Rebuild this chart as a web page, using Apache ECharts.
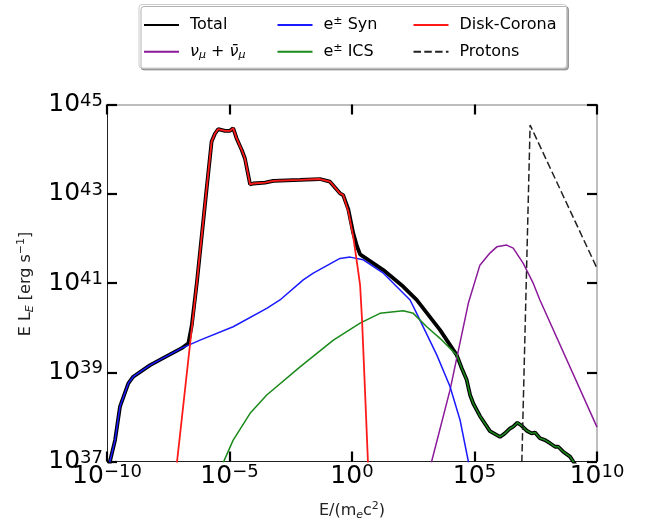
<!DOCTYPE html>
<html>
<head>
<meta charset="utf-8">
<script src="https://cdn.jsdelivr.net/npm/echarts@6/dist/echarts.min.js"></script>
<style>
  html, body { margin: 0; padding: 0; background: #fff; }
  #chart { width: 646px; height: 526px; }
</style>
</head>
<body>
<div id="chart"></div>
<script>
// Spectral energy distribution, both axes in decades: [log10 E/(me c^2), log10 E L_E]
const xTickExps = [-10, -5, 0, 5, 10];
const yTickExps = [37, 39, 41, 43, 45];

const totalCurve = [
  [-9.95, 36.5], [-9.88, 37.0], [-9.67, 37.48], [-9.47, 38.23], [-9.13, 38.75], [-8.93, 38.90],
  [-8.24, 39.16], [-7.56, 39.36], [-6.95, 39.54], [-6.68, 39.65], [-6.54, 40.05], [-6.33, 41.02],
  [-5.94, 43.08], [-5.73, 44.17], [-5.59, 44.35], [-5.46, 44.45], [-5.18, 44.41], [-4.98, 44.41],
  [-4.85, 44.47], [-4.71, 44.24], [-4.50, 43.98], [-4.37, 43.79], [-4.16, 43.21], [-4.03, 43.23],
  [-3.55, 43.25], [-3.21, 43.29], [-2.12, 43.31], [-1.31, 43.33], [-0.90, 43.27], [-0.49, 43.01],
  [-0.36, 42.97], [-0.15, 42.65], [0.05, 42.12], [0.20, 41.83], [0.33, 41.64], [1.28, 41.29],
  [2.09, 40.92], [2.64, 40.62], [3.59, 39.95], [4.27, 39.39], [4.48, 39.09], [4.68, 38.83],
  [4.82, 38.49], [4.95, 38.30], [5.22, 38.02], [5.63, 37.68], [6.04, 37.55], [6.24, 37.63],
  [6.45, 37.74], [6.58, 37.78], [6.75, 37.87], [6.93, 37.80], [7.13, 37.69], [7.33, 37.63],
  [7.47, 37.65], [7.67, 37.52], [7.88, 37.48], [8.08, 37.41], [8.29, 37.33], [8.42, 37.33],
  [8.62, 37.22], [8.90, 37.11], [9.03, 37.0], [9.27, 36.8]
];

const neutrinoCurve = [
  [3.02, 36.5], [3.25, 37.0], [4.00, 38.60], [4.75, 40.55], [5.22, 41.40], [5.63, 41.67],
  [5.91, 41.81], [6.31, 41.85], [6.58, 41.78], [6.99, 41.44], [7.40, 40.99], [7.67, 40.62],
  [10.0, 37.77]
];

const synCurve = [
  [-9.95, 36.5], [-9.88, 37.0], [-9.67, 37.48], [-9.47, 38.23], [-9.13, 38.75], [-8.93, 38.90],
  [-8.24, 39.16], [-7.56, 39.36], [-6.95, 39.54], [-6.20, 39.72], [-4.85, 40.02], [-3.48, 40.43],
  [-2.94, 40.62], [-1.99, 41.07], [-1.58, 41.22], [-0.49, 41.55], [-0.08, 41.58], [0.46, 41.52],
  [1.28, 41.22], [2.37, 40.62], [2.64, 40.32], [3.46, 39.39], [4.00, 38.68], [4.41, 37.93],
  [4.75, 37.0], [4.93, 36.5]
];

const icsCurve = [
  [-5.60, 36.55], [-4.85, 37.48], [-4.16, 38.08], [-3.48, 38.49], [-2.12, 39.12], [-0.76, 39.72],
  [0.33, 40.10], [1.14, 40.32], [2.09, 40.38], [2.50, 40.32], [3.05, 40.02], [3.59, 39.76],
  [4.27, 39.39], [4.48, 39.09], [4.68, 38.83], [4.82, 38.49], [4.95, 38.30], [5.22, 38.02],
  [5.63, 37.68], [6.04, 37.55], [6.24, 37.63], [6.45, 37.74], [6.58, 37.78], [6.75, 37.87],
  [6.93, 37.80], [7.13, 37.69], [7.33, 37.63], [7.47, 37.65], [7.67, 37.52], [7.88, 37.48],
  [8.08, 37.41], [8.29, 37.33], [8.42, 37.33], [8.62, 37.22], [8.90, 37.11], [9.03, 37.0],
  [9.27, 36.8]
];

const diskCoronaCurve = [
  [-7.24, 36.5], [-7.14, 37.0], [-6.33, 41.02], [-5.94, 43.08], [-5.73, 44.17], [-5.59, 44.35],
  [-5.46, 44.45], [-5.18, 44.41], [-4.98, 44.41], [-4.85, 44.47], [-4.71, 44.24], [-4.50, 43.98],
  [-4.37, 43.79], [-4.16, 43.21], [-4.03, 43.23], [-3.55, 43.25], [-3.21, 43.29], [-2.12, 43.31],
  [-1.31, 43.33], [-0.90, 43.27], [-0.49, 43.01], [-0.36, 42.97], [-0.15, 42.61], [0.05, 42.04],
  [0.20, 41.47], [0.33, 40.96], [0.41, 40.17], [0.53, 38.60], [0.65, 37.0], [0.69, 36.5]
];

const protonCurve = [
  [6.91, 36.5], [7.27, 44.54], [10.0, 41.33]
];

const FONT = 'DejaVu Sans';
const MINUS = '\u2212';

function expText(n) {
  return (n < 0 ? MINUS + Math.abs(n) : String(n));
}

const tickRich = {
  b: { fontFamily: FONT, fontSize: 25, lineHeight: 25, verticalAlign: 'bottom', color: '#000', padding: [3, 0, 0, 0] },
  s: { fontFamily: FONT, fontSize: 18, lineHeight: 10, verticalAlign: 'top', color: '#000' }
};

function tickLabel(v) {
  return '{b|10}{s|' + expText(Math.round(v)) + '}';
}

const legendRich = {
  t: { fontFamily: FONT, fontSize: 16, color: '#000', lineHeight: 18 },
  it: { fontFamily: FONT, fontSize: 16, fontStyle: 'italic', color: '#000', lineHeight: 18 },
  sp: { fontFamily: FONT, fontSize: 11, color: '#000', lineHeight: 12, verticalAlign: 'top' },
  sb: { fontFamily: FONT, fontSize: 11, fontStyle: 'italic', color: '#000', lineHeight: 12, verticalAlign: 'bottom' }
};

const legendText = {
  'Total': '{t|Total}',
  'numu': '{it|ν}{sb|μ}{t| + }{it|ν̄}{sb|μ}',
  'e± Syn': '{t|e}{sp|±}{t| Syn}',
  'e± ICS': '{t|e}{sp|±}{t| ICS}',
  'Disk-Corona': '{t|Disk-Corona}',
  'Protons': '{t|Protons}'
};

function makeLegend(left, names) {
  return {
    orient: 'vertical',
    left: left,
    top: 16,
    padding: 0,
    itemWidth: 35,
    itemHeight: 16,
    itemGap: 8.7,
    selectedMode: false,
    data: names,
    itemStyle: { opacity: 0 },
    formatter: name => legendText[name],
    textStyle: { fontFamily: FONT, fontSize: 16, color: '#000', lineHeight: 18, padding: [0, 0, 0, 6], rich: legendRich }
  };
}

function lineSeries(name, data, color, width, extra) {
  return Object.assign({
    name: name,
    type: 'line',
    data: data,
    symbol: 'none',
    showSymbol: false,
    clip: true,
    silent: true,
    lineStyle: { color: color, width: width },
    itemStyle: { color: color }
  }, extra || {});
}

const axisCommonX = {
  type: 'value',
  min: xTickExps[0],
  max: xTickExps[xTickExps.length - 1],
  interval: xTickExps[1] - xTickExps[0],
  splitLine: { show: false }
};
const axisCommonY = {
  type: 'value',
  min: yTickExps[0],
  max: yTickExps[yTickExps.length - 1],
  interval: yTickExps[1] - yTickExps[0],
  splitLine: { show: false }
};

function tickStyle() {
  return { show: true, inside: true, length: 10, lineStyle: { color: '#000', width: 2.2 } };
}

const chart = echarts.init(document.getElementById('chart'), null, { renderer: 'canvas' });

chart.setOption({
  animation: false,
  backgroundColor: '#fff',
  grid: { left: 107, right: 49, top: 104.5, bottom: 64.5 },
  xAxis: [
    Object.assign({}, axisCommonX, {
      position: 'bottom',
      axisLine: { show: true, onZero: false, lineStyle: { color: '#222', width: 1 } },
      axisTick: tickStyle(),
      axisLabel: { show: true, margin: 2, formatter: tickLabel, rich: tickRich, showMinLabel: true, showMaxLabel: true }
    }),
    Object.assign({}, axisCommonX, {
      position: 'top',
      axisLine: { show: true, onZero: false, lineStyle: { color: '#a8a8a8', width: 1.5 } },
      axisTick: tickStyle(),
      axisLabel: { show: false }
    })
  ],
  yAxis: [
    Object.assign({}, axisCommonY, {
      position: 'left',
      axisLine: { show: true, onZero: false, lineStyle: { color: '#222', width: 1 } },
      axisTick: tickStyle(),
      axisLabel: { show: true, margin: 4, formatter: tickLabel, rich: tickRich, showMinLabel: true, showMaxLabel: true }
    }),
    Object.assign({}, axisCommonY, {
      position: 'right',
      axisLine: { show: true, onZero: false, lineStyle: { color: '#a8a8a8', width: 1.5 } },
      axisTick: tickStyle(),
      axisLabel: { show: false }
    })
  ],
  legend: [
    makeLegend(143, ['Total', 'numu']),
    makeLegend(276.5, ['e± Syn', 'e± ICS']),
    makeLegend(412.5, ['Disk-Corona', 'Protons'])
  ],
  graphic: [
    {
      type: 'rect', z: 1,
      shape: { x: 139, y: 4.5, width: 427.5, height: 63.5, r: 3 },
      style: { fill: '#fff', stroke: '#cccccc', lineWidth: 1, shadowColor: 'rgba(0,0,0,0.3)', shadowOffsetX: 2, shadowOffsetY: 2, shadowBlur: 0 }
    },
    {
      type: 'text', x: 352, y: 511, z: 10,
      style: {
        text: '{t|E/(m}{sb|e}{t|c}{sp|2}{t|)}',
        align: 'center', verticalAlign: 'middle',
        rich: {
          t: { fontFamily: FONT, fontSize: 16, fill: '#222', lineHeight: 20 },
          sb: { fontFamily: FONT, fontSize: 11, fontStyle: 'italic', fill: '#222', lineHeight: 13, verticalAlign: 'bottom' },
          sp: { fontFamily: FONT, fontSize: 11, fill: '#222', lineHeight: 13, verticalAlign: 'top' }
        }
      }
    },
    {
      type: 'text', x: 26, y: 284, z: 10, rotation: Math.PI / 2,
      style: {
        text: '{t|E L}{sb|E}{t| [erg s}{sp|' + MINUS + '1}{t|]}',
        align: 'center', verticalAlign: 'middle',
        rich: {
          t: { fontFamily: FONT, fontSize: 16, fill: '#222', lineHeight: 20 },
          sb: { fontFamily: FONT, fontSize: 11, fontStyle: 'italic', fill: '#222', lineHeight: 13, verticalAlign: 'bottom' },
          sp: { fontFamily: FONT, fontSize: 11, fill: '#222', lineHeight: 13, verticalAlign: 'top' }
        }
      }
    }
  ],
  series: [
    lineSeries('Total', totalCurve, '#000000', 3.8),
    lineSeries('numu', neutrinoCurve, '#8b1a9a', 1.5),
    lineSeries('e± Syn', synCurve, '#1a1aff', 1.5),
    lineSeries('e± ICS', icsCurve, '#1a8a1a', 1.5),
    lineSeries('Disk-Corona', diskCoronaCurve, '#ff1a1a', 1.8),
    lineSeries('Protons', protonCurve, '#222222', 1.5, {
      lineStyle: { color: '#222222', width: 1.5, type: [7.5, 3.3] }
    })
  ]
});
</script>
</body>
</html>
